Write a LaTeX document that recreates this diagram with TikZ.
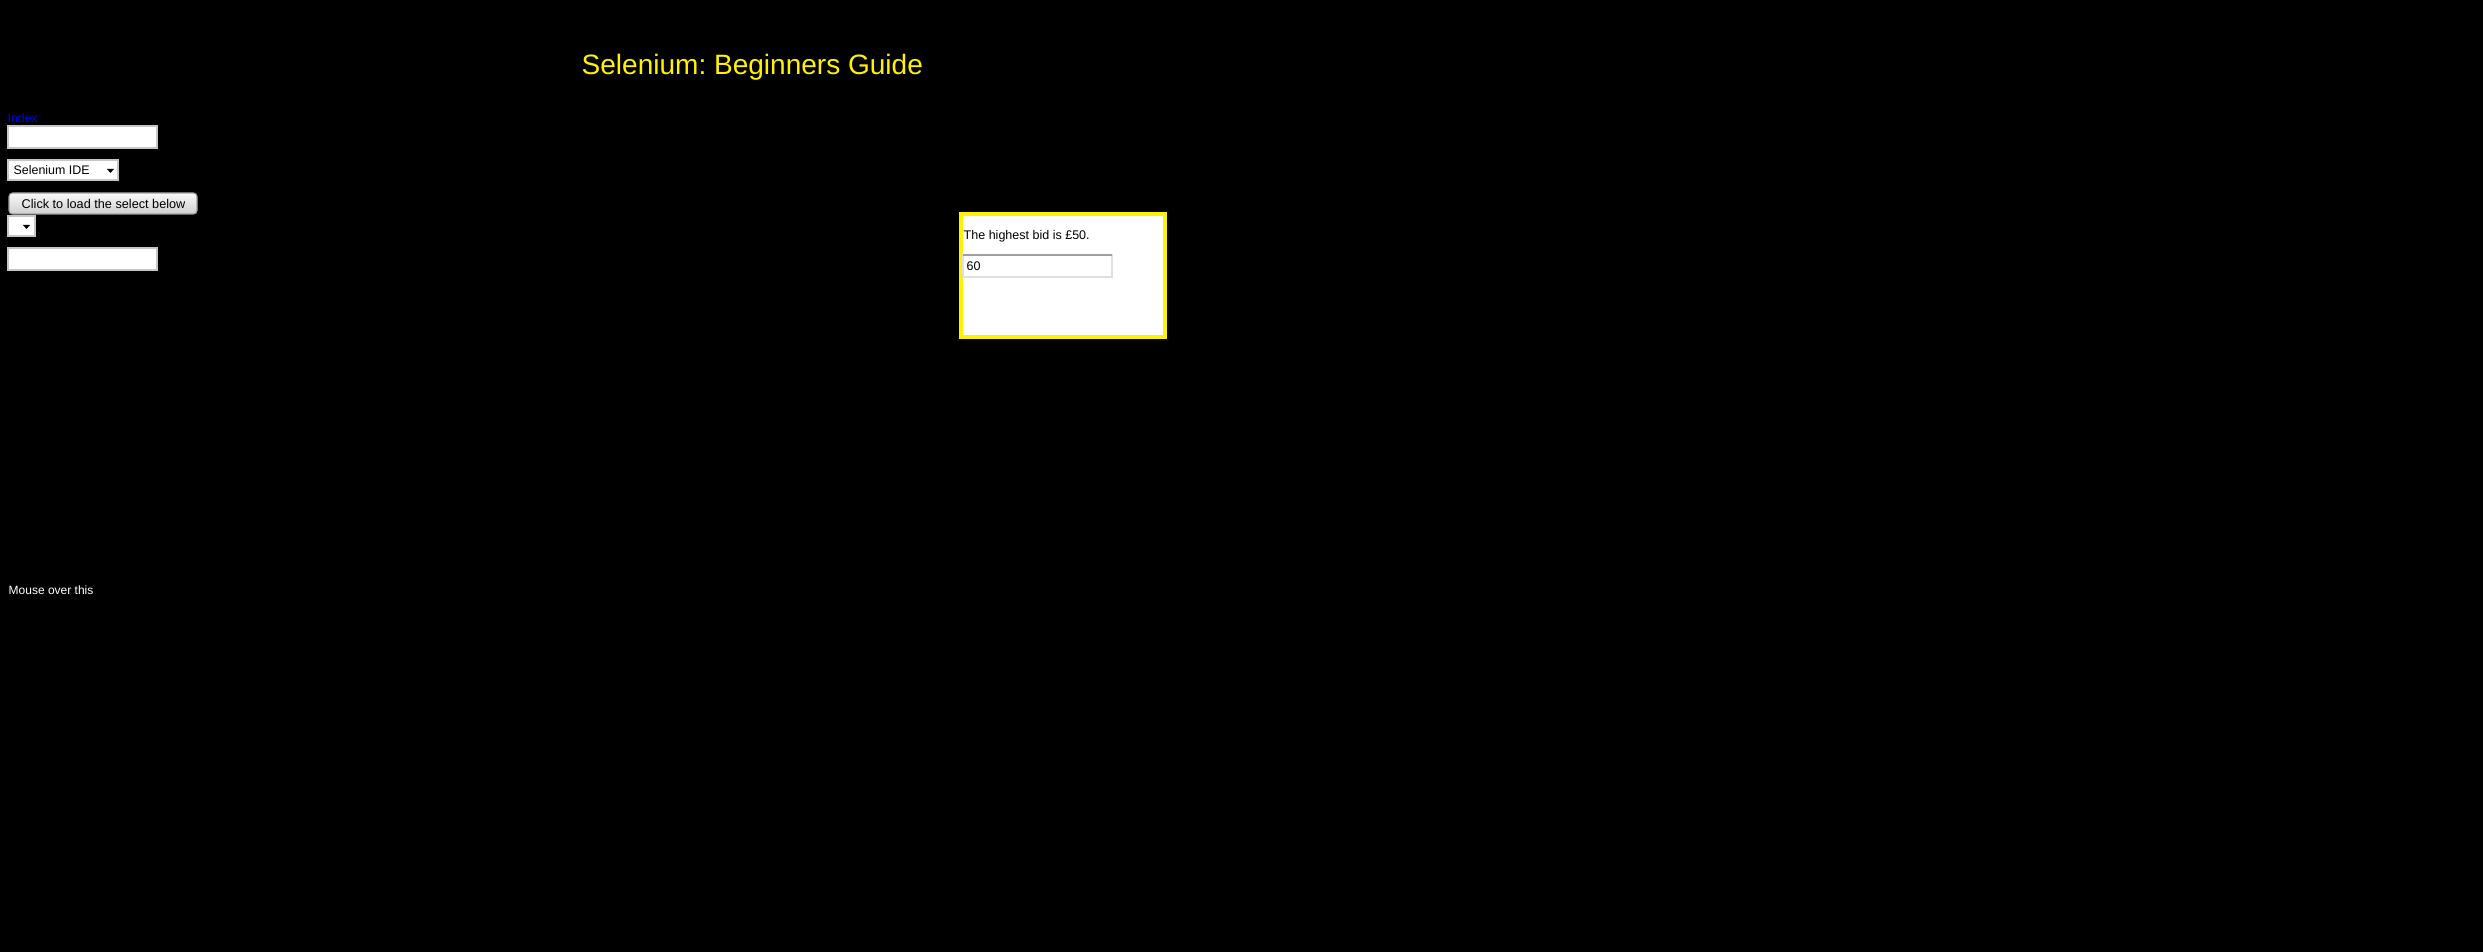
\documentclass[tikz,border=0pt]{standalone}
\usepackage{fontspec}
\setmainfont{Liberation Sans}
\definecolor{linkblue}{RGB}{0,0,230}
\frenchspacing
\begin{document}
\begin{tikzpicture}[x=0.01cm, y=-0.01cm,
    field/.style={draw=gray!45, fill=white, line width=0.3pt},
    label/.style={inner sep=0pt, anchor=base west},
    arrowtip/.style={fill=black}]
    % page background
    \fill[black] (0,0) rectangle (2483,952);
    \useasboundingbox (0,0) rectangle (2483,952);
    % heading
    \node[label, text=yellow] (title) at (581,75) {\fontsize{7.97}{9}\selectfont Selenium: Beginners Guide};
    % index link
    \node[label, text=linkblue] (index) at (7,123) {\fontsize{3.5}{4}\selectfont Index};
    \draw[linkblue, line width=0.3pt] (index.south west) ++(0,1.5) -- ++(30,0);
    % first text field
    \draw[field] (8,126) rectangle (157,148);
    % select with Selenium IDE
    \draw[field] (8,160) rectangle (118,180);
    \node[label] (ide) at (13,175) {\fontsize{3.53}{4}\selectfont Selenium IDE};
    \fill[arrowtip] (107,169) -- (114,169) -- (110.5,173) -- cycle;
    % load button
    \shade[top color=white!95!gray, bottom color=gray!38, draw=gray!75, line width=0.3pt, rounded corners=1pt]
        (9,193) rectangle (197,214);
    \node[label] (load) at (21,209) {\fontsize{3.61}{4}\selectfont Click to load the select below};
    % empty select
    \draw[field] (8,216) rectangle (35,236);
    \fill[arrowtip] (23,225) -- (30,225) -- (26.5,229) -- cycle;
    % second text field
    \draw[field] (8,248) rectangle (157,270);
    % bid panel
    \draw[yellow, fill=white, line width=1.14pt] (961,214) rectangle (1165,337);
    \node[label] (bid) at (963,240) {\fontsize{3.56}{4}\selectfont The highest bid is £50.};
    \draw[draw=gray!25, fill=white, line width=0.3pt] (963,255) rectangle (1112,277);
    \draw[gray!75, line width=0.3pt] (963,255) -- (1112,255);
    \node[label] (amount) at (966,271) {\fontsize{3.56}{4}\selectfont 60};
    % hover text
    \node[label, text=white!88] (hover) at (8,594) {\fontsize{3.41}{4}\selectfont Mouse over this};
\end{tikzpicture}
\end{document}
